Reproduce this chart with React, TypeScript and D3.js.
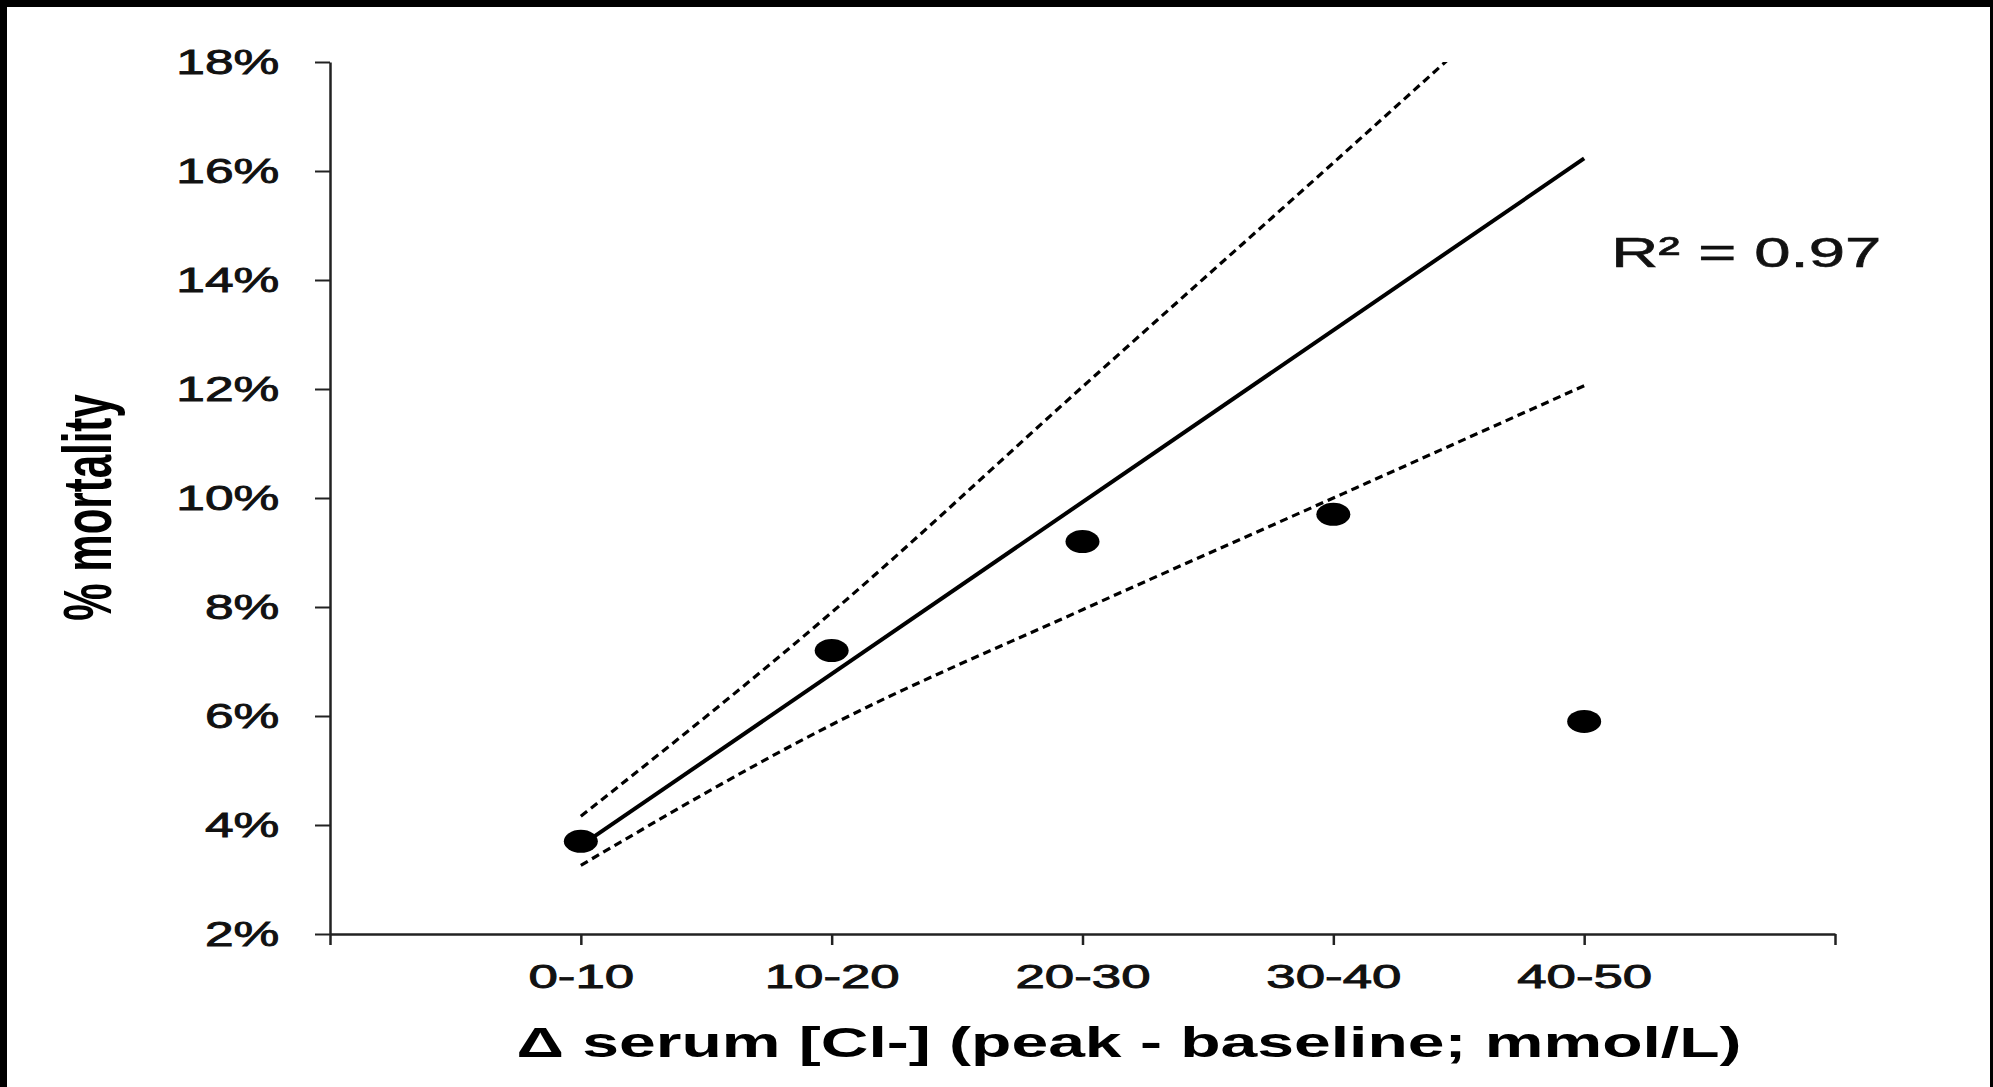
import React, { useEffect, useRef } from "react";
import * as d3 from "d3";

const W = 1993,
  H = 1087;
const FONT = "'Liberation Sans', Arial, sans-serif";

// categories on the x axis
const categories = ["0-10", "10-20", "20-30", "30-40", "40-50"];
// observed mortality (%) per category
const mortality = [3.7, 7.2, 9.2, 9.7, 5.9];
// regression line, drawn between first and last category
const fitCats = ["0-10", "40-50"];
const fitValues = [3.62, 16.23];
// confidence bands (%) per category
const upperCI = [4.16, 7.9, 12.04, 16.15, 20.3];
const lowerCI = [3.26, 5.84, 7.95, 10.0, 12.06];
const yTicks = [2, 4, 6, 8, 10, 12, 14, 16, 18];

const yTitle = "% mortality";
const xTitle = "\u0394 serum [Cl-] (peak - baseline; mmol/L)";
const rLabel = "R\u00b2 = 0.97";

function App() {
  const ref = useRef(null);

  useEffect(() => {
    const svg = d3.select(ref.current);
    svg.selectAll("*").remove();

    // frame
    svg.append("rect").attr("width", W).attr("height", H).attr("fill", "#000");
    svg.append("rect").attr("x", 7).attr("y", 7).attr("width", 1983).attr("height", H - 7).attr("fill", "#fff");

    const x = d3.scaleLinear().domain([0, categories.length + 1]).range([330, 1835]);
    const y = d3.scaleLinear().domain([2, 18]).range([934, 62]);
    const xc = (c) => x(categories.indexOf(c) + 1);

    svg
      .append("defs")
      .append("clipPath")
      .attr("id", "plot-clip")
      .append("rect")
      .attr("x", x(0))
      .attr("y", y(18))
      .attr("width", x(categories.length + 1) - x(0))
      .attr("height", y(2) - y(18));

    //y轴
    const gy = svg
      .append("g")
      .attr("transform", `translate(${x(0)},0)`)
      .call(
        d3.axisLeft(y).tickValues(yTicks).tickSize(15).tickSizeOuter(0).tickFormat((d) => `${d}%`)
      );
    gy.select(".domain").attr("stroke", "#222").attr("stroke-width", 2.5);
    gy.selectAll(".tick line").attr("stroke", "#222").attr("stroke-width", 2);
    gy.selectAll(".tick text")
      .attr("font-size", 36)
      .attr("font-family", FONT)
      .attr("fill", "#111")
      .attr("stroke", "#111")
      .attr("stroke-width", 0.9)
      .attr("x", -50.7 / 1.43)
      .attr("transform", "scale(1.43,1)");

    //x轴
    const gx = svg
      .append("g")
      .attr("transform", `translate(0,${y(2)})`)
      .call(
        d3
          .axisBottom(x)
          .tickValues(d3.range(0, categories.length + 2))
          .tickSize(11)
          .tickSizeOuter(0)
          .tickFormat((i) => categories[i - 1] ?? "")
      );
    gx.select(".domain").attr("stroke", "#222").attr("stroke-width", 2.5);
    gx.selectAll(".tick line").attr("stroke", "#222").attr("stroke-width", 2.5);
    gx.selectAll(".tick text")
      .attr("font-size", 33)
      .attr("font-family", FONT)
      .attr("fill", "#111")
      .attr("stroke", "#111")
      .attr("stroke-width", 0.9)
      .attr("y", 54)
      .attr("dy", 0)
      .attr("transform", "scale(1.6,1)");

    //置信带
    const band = d3
      .line()
      .x((_, i) => x(i + 1))
      .y((d) => y(d))
      .curve(d3.curveMonotoneX);

    const lines = svg.append("g").attr("clip-path", "url(#plot-clip)").attr("fill", "none");
    [upperCI, lowerCI].forEach((vals) => {
      lines
        .append("path")
        .attr("d", band(vals))
        .attr("stroke", "#000")
        .attr("stroke-width", 3.2)
        .attr("stroke-dasharray", "8,5");
    });

    //回归线
    const fit = d3
      .line()
      .x((d) => xc(d[0]))
      .y((d) => y(d[1]));
    lines
      .append("path")
      .attr("d", fit(fitCats.map((c, i) => [c, fitValues[i]])))
      .attr("stroke", "#000")
      .attr("stroke-width", 4);

    //散点
    svg
      .append("g")
      .selectAll("ellipse")
      .data(mortality)
      .join("ellipse")
      .attr("cx", (_, i) => x(i + 1))
      .attr("cy", (d) => y(d))
      .attr("rx", 17)
      .attr("ry", 11.5)
      .attr("fill", "#000");

    svg
      .append("text")
      .attr("x", x(5.108))
      .attr("y", y(14.24))
      .attr("font-family", FONT)
      .attr("font-size", 42)
      .attr("fill", "#111")
      .attr("stroke", "#111")
      .attr("stroke-width", 0.6)
      .attr("textLength", 270)
      .attr("lengthAdjust", "spacingAndGlyphs")
      .text(rLabel);

    svg
      .append("text")
      .attr("x", 1129)
      .attr("y", 1057)
      .attr("text-anchor", "middle")
      .attr("font-family", FONT)
      .attr("font-weight", "bold")
      .attr("font-size", 43)
      .attr("fill", "#000")
      .attr("textLength", 1225)
      .attr("lengthAdjust", "spacingAndGlyphs")
      .text(xTitle);

    svg
      .append("text")
      .attr("transform", "translate(110.7,507.5) scale(1.65,1) rotate(-90)")
      .attr("text-anchor", "middle")
      .attr("font-family", FONT)
      .attr("font-weight", "bold")
      .attr("font-size", 42)
      .attr("fill", "#000")
      .text(yTitle);
  }, []);

  return (
    <svg
      ref={ref}
      width={W}
      height={H}
      style={{ position: "absolute", left: 0, top: 0, display: "block" }}
    />
  );
}

export default App;
